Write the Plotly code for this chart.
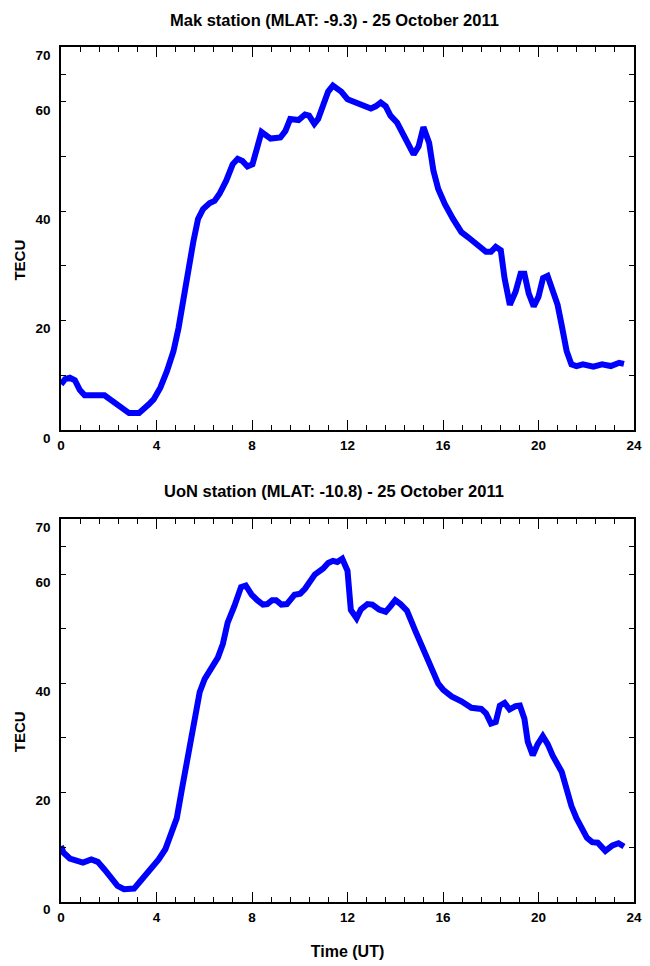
import plotly.graph_objects as go

# ---------------- data ----------------
mak_time = [0, 0.17, 0.37, 0.58, 0.79, 0.99, 1.82, 2.03, 2.44, 2.85, 3.27, 3.47, 3.68, 3.88,
            4.16, 4.44, 4.71, 4.92, 5.12, 5.33, 5.54, 5.74, 5.95, 6.23, 6.43, 6.64, 6.92, 7.19,
            7.4, 7.6, 7.81, 8.02, 8.18, 8.4, 8.78, 9.19, 9.4, 9.6, 9.95, 10.22, 10.39, 10.61,
            10.77, 10.98, 11.19, 11.39, 11.74, 12.0, 12.36, 12.98, 13.18, 13.39, 13.6, 13.8,
            14.08, 14.43, 14.77, 14.98, 15.18, 15.42, 15.6, 15.8, 16.08, 16.42, 16.77, 17.04,
            17.46, 17.8, 18.01, 18.21, 18.42, 18.58, 18.8, 19.04, 19.25, 19.41, 19.59, 19.8,
            20.0, 20.19, 20.38, 20.56, 20.8, 20.97, 21.18, 21.38, 21.59, 21.86, 22.07, 22.3,
            22.66, 23.03, 23.38, 23.58]
mak_tec = [8.35, 9.3, 9.55, 9.1, 7.3, 6.35, 6.35, 5.75, 4.4, 3.1, 3.1, 3.8, 4.7, 5.6,
           7.75, 10.8, 14.4, 18.6, 24.1, 28.9, 34.4, 38.6, 40.4, 41.5, 41.9, 43.2, 45.6, 48.6,
           49.6, 49.2, 48.2, 48.6, 51.3, 54.5, 53.3, 53.5, 54.7, 56.9, 56.7, 57.7, 57.5, 56.0,
           56.9, 59.8, 61.9, 63.0, 61.9, 60.5, 59.9, 58.8, 59.2, 59.9, 59.2, 57.5,
           56.2, 53.5, 50.4, 51.9, 55.4, 52.5, 47.4, 44.1, 41.3, 38.6, 36.2, 35.3,
           33.8, 32.6, 32.6, 33.5, 32.9, 27.7, 22.9, 25.3, 28.6, 28.6, 25.0, 22.6,
           24.4, 27.8, 28.2, 25.6, 22.9, 19.2, 14.4, 12.0, 11.7, 12.0, 11.9, 11.6,
           12.0, 11.7, 12.3, 12.1]

uon_time = [0, 0.1, 0.37, 0.65, 0.92, 1.27, 1.54, 1.82, 2.09, 2.37, 2.64, 3.06, 3.33, 3.75,
            4.09, 4.37, 4.64, 4.85, 5.06, 5.26, 5.47, 5.68, 5.81, 6.02, 6.23, 6.57, 6.78, 6.98,
            7.26, 7.54, 7.74, 7.99, 8.22, 8.46, 8.64, 8.84, 9.01, 9.23, 9.46, 9.78, 10.02, 10.22,
            10.63, 10.98, 11.19, 11.39, 11.57, 11.78, 12.0, 12.14, 12.38, 12.56, 12.84, 13.04,
            13.32, 13.6, 13.8, 14.0, 14.22, 14.49, 14.84, 15.18, 15.53, 15.8, 16.01, 16.36,
            16.77, 17.19, 17.6, 17.8, 18.01, 18.21, 18.38, 18.58, 18.79, 19.04, 19.22, 19.41,
            19.55, 19.76, 19.96, 20.18, 20.39, 20.6, 20.97, 21.18, 21.38, 21.59, 21.84, 22.03,
            22.25, 22.48, 22.8, 23.1, 23.35, 23.58]
uon_tec = [10.2, 9.0, 7.9, 7.45, 7.15, 7.75, 7.3, 5.9, 4.4, 2.9, 2.3, 2.4, 3.8, 5.9,
           7.75, 9.6, 12.6, 15.3, 20.5, 25.3, 31.4, 36.8, 38.4, 40.8, 42.4, 44.7, 47.2, 51.1,
           54.1, 57.6, 57.9, 56.2, 55.2, 54.4, 54.5, 55.2, 55.2, 54.4, 54.5, 56.2, 56.4, 57.3,
           59.9, 61.0, 62.0, 62.4, 62.2, 62.8, 60.6, 53.4, 51.9, 53.5, 54.5, 54.4,
           53.5, 53.1, 54.1, 55.2, 54.5, 53.3, 49.6, 46.2, 42.6, 39.9, 38.8, 37.6,
           36.7, 35.5, 35.3, 34.5, 32.6, 32.9, 35.9, 36.4, 35.2, 35.8, 35.9, 33.5,
           29.3, 26.8, 28.8, 30.3, 28.8, 26.7, 23.8, 20.5, 17.5, 15.3, 13.5, 11.7,
           10.9, 10.8, 9.3, 10.3, 10.7, 10.1]

x_tickvals = [0, 4, 8, 12, 16, 20, 24]
y_tickvals = [0, 20, 40, 60, 70]
y_minor_ticks = [10, 30, 50, 65]

titles = ["Mak station (MLAT: -9.3) - 25 October 2011",
          "UoN station (MLAT: -10.8) - 25 October 2011"]
y_title = "TECU"
x_title = "Time (UT)"

assert len(mak_time) == len(mak_tec)
assert len(uon_time) == len(uon_tec)

# ---------------- figure ----------------
W, H = 650, 966
ML, MR, MT, MB = 61, 8, 47, 58
PH = H - MT - MB


def py(px):
    """pixel row (from top) -> paper y"""
    return (H - MB - px) / PH


def pxx(px):
    return (px - ML) / (W - ML - MR)


FONT = "Liberation Sans, Arial, sans-serif"

fig = go.Figure()
fig.add_trace(go.Scatter(x=mak_time, y=mak_tec, mode="lines",
                         line=dict(color="#0000ff", width=6),
                         xaxis="x", yaxis="y", showlegend=False))
fig.add_trace(go.Scatter(x=uon_time, y=uon_tec, mode="lines",
                         line=dict(color="#0000ff", width=6),
                         xaxis="x2", yaxis="y2", showlegend=False))

xcommon = dict(range=[0, 24], tickmode="array", tickvals=x_tickvals,
               ticks="inside", ticklen=10, tickwidth=1.3, tickcolor="black",
               minor=dict(tickmode="linear", tick0=0, dtick=0.8, ticks="inside",
                          ticklen=5, tickwidth=1.3, tickcolor="black"),
               showline=True, linecolor="black", linewidth=1.6, mirror="ticks",
               showgrid=False, zeroline=False, ticklabelstandoff=2,
               tickfont=dict(family=FONT, size=13.5, color="black", weight="bold"))
ycommon = dict(range=[0, 70], tickmode="array", tickvals=y_tickvals,
               ticks="inside", ticklen=5, tickwidth=1.3, tickcolor="black",
               minor=dict(tickmode="array", tickvals=y_minor_ticks, ticks="inside",
                          ticklen=5, tickwidth=1.3, tickcolor="black"),
               showline=True, linecolor="black", linewidth=1.6, mirror="ticks",
               showgrid=False, zeroline=False, ticklabelshift=8, ticklabelstandoff=6,
               tickfont=dict(family=FONT, size=13.5, color="black", weight="bold"))

top_dom = [py(432.7), py(47.3)]
bot_dom = [py(907.7), py(522.7)]

fig.update_layout(
    width=W, height=H,
    margin=dict(l=ML, r=MR, t=MT, b=MB),
    paper_bgcolor="white", plot_bgcolor="white",
    xaxis=dict(xcommon, domain=[0, 1], anchor="y"),
    yaxis=dict(ycommon, domain=top_dom, anchor="x"),
    xaxis2=dict(xcommon, domain=[0, 1], anchor="y2",
                title=dict(text=x_title, standoff=22,
                           font=dict(family=FONT, size=16, color="black", weight="bold"))),
    yaxis2=dict(ycommon, domain=bot_dom, anchor="x2"),
)

ann_font = dict(family=FONT, size=16.5, color="black", weight="bold")
lab_font = dict(family=FONT, size=15, color="black", weight="bold")
fig.add_annotation(text=titles[0], xref="paper", yref="paper", x=pxx(338), y=py(20),
                   xanchor="center", yanchor="middle", showarrow=False, font=ann_font)
fig.add_annotation(text=titles[1], xref="paper", yref="paper", x=pxx(338), y=py(494),
                   xanchor="center", yanchor="middle", showarrow=False, font=ann_font)
for yc in (262, 737):
    fig.add_annotation(text=y_title, xref="paper", yref="paper", x=pxx(18.5), y=py(yc),
                       xanchor="center", yanchor="middle", textangle=-90,
                       showarrow=False, font=lab_font)

fig.write_html("out.html")
